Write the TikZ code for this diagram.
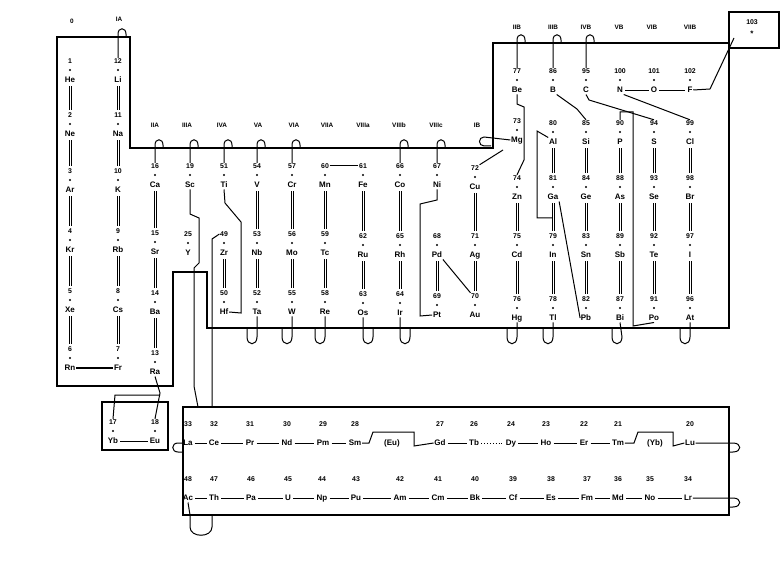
\documentclass[tikz,border=0pt]{standalone}
\usepackage{fontspec}
\setmainfont{Liberation Sans}
\begin{document}
\begin{tikzpicture}[x=1pt,y=-1pt,
  sym/.style={font=\fontsize{8}{9}\selectfont\bfseries, inner sep=0.6pt, text height=5.8pt, text depth=1.6pt},
  num/.style={font=\fontsize{6.9}{8}\selectfont\bfseries, inner sep=0.5pt, text height=5pt, text depth=0pt},
  hdr/.style={font=\fontsize{6.4}{7}\selectfont\bfseries, inner sep=0.5pt},
  frame/.style={line width=1.6pt, line join=miter},
  conn/.style={line width=1pt},
  barl/.style={line width=0.75pt},
  sep/.style={line width=0.9pt, shorten <=1.5pt, shorten >=1.5pt}]
\useasboundingbox (0,0) rectangle (782,561);
\fill[white] (0,0) rectangle (782,561);

% ---------- elements with spiral numbers ----------
\foreach \x/\yy/\n/\s in {
  70/80/1/He, 70/134/2/Ne, 70/190/3/Ar, 70/250/4/Kr, 70/310/5/Xe, 70/368/6/Rn,
  118/80/12/Li, 118/134/11/Na, 118/190/10/K, 118/250/9/Rb, 118/310/8/Cs, 118/368/7/Fr,
  155/185/16/Ca, 155/252/15/Sr, 155/312/14/Ba, 155/372/13/Ra,
  113/441/17/Yb, 155/441/18/Eu,
  190/185/19/Sc, 188/253/25/Y,
  224/185/51/Ti, 224/253/49/Zr, 224/312/50/Hf,
  257/185/54/V, 257/253/53/Nb, 257/312/52/Ta,
  292/185/57/Cr, 292/253/56/Mo, 292/312/55/W,
  325/185/60/Mn, 325/253/59/Tc, 325/312/58/Re,
  363/185/61/Fe, 363/255/62/Ru, 363/313/63/Os,
  400/185/66/Co, 400/255/65/Rh, 400/313/64/Ir,
  437/185/67/Ni, 437/255/68/Pd, 437/315/69/Pt,
  475/187/72/Cu, 475/255/71/Ag, 475/315/70/Au,
  517/90/77/Be, 517/140/73/Mg, 517/197/74/Zn, 517/255/75/Cd, 517/318/76/Hg,
  553/90/86/B, 553/142/80/Al, 553/197/81/Ga, 553/255/79/In, 553/318/78/Tl,
  586/90/95/C, 586/142/85/Si, 586/197/84/Ge, 586/255/83/Sn, 586/318/82/Pb,
  620/90/100/N, 620/142/90/P, 620/197/88/As, 620/255/89/Sb, 620/318/87/Bi,
  654/90/101/O, 654/142/94/S, 654/197/93/Se, 654/255/92/Te, 654/318/91/Po,
  690/90/102/F, 690/142/99/Cl, 690/197/98/Br, 690/255/97/I, 690/318/96/At}
{
  \node[sym] (\s) at (\x,\yy) {\s};
  \node[num] (n\s) at (\x,\yy-19) {\n};
  \fill (\x,\yy-10) circle[radius=1.1];
}

% ---------- double bars inside columns ----------
\foreach \a/\b in {He/Ne,Ne/Ar,Ar/Kr,Kr/Xe,Xe/Rn, Li/Na,Na/K,K/Rb,Rb/Cs,Cs/Fr,
  Ca/Sr,Sr/Ba,Ba/Ra, Zr/Hf, V/Nb,Nb/Ta, Cr/Mo,Mo/W, Mn/Tc,Tc/Re,
  Fe/Ru,Ru/Os, Co/Rh,Rh/Ir, Pd/Pt, Cu/Ag,Ag/Au,
  Zn/Cd,Cd/Hg, Al/Ga,Ga/In,In/Tl, Si/Ge,Ge/Sn,Sn/Pb, P/As,As/Sb,Sb/Bi,
  S/Se,Se/Te,Te/Po, Cl/Br,Br/I,I/At}
{
  \draw[barl] ([xshift=-1pt,yshift=-2pt]\a.south) -- ([xshift=-1pt,yshift=2pt]\a.south |- n\b.north);
  \draw[barl] ([xshift=1pt,yshift=-2pt]\a.south) -- ([xshift=1pt,yshift=2pt]\a.south |- n\b.north);
}

% ---------- main spiral frame ----------
\draw[frame] (57,37) -- (130,37) -- (130,148) -- (493,148) -- (493,43) -- (729,43)
  -- (729,328) -- (207,328) -- (207,272) -- (173,272) -- (173,386) -- (57,386) -- cycle;

% top bridges (column line arches over the frame)
\foreach \x/\yl/\s in {118/37/Li, 155/148/Ca, 190/148/Sc, 224/148/Ti, 257/148/V,
  292/148/Cr, 400/148/Co, 437/148/Ni, 517/43/Be, 553/43/B, 586/43/C}
  \draw[conn] (n\s.north) -- (\x,\yl-3) .. controls (\x,\yl-10) and (\x+8,\yl-10) .. (\x+8,\yl-3) -- (\x+8,\yl);

% bottom loops (column line dips under the frame)
\foreach \x/\xx/\s in {257/247/Ta, 292/282/W, 325/315/Re, 363/373/Os, 400/410/Ir,
  517/507/Hg, 553/543/Tl, 622/612/Bi, 690/680/At}
  \draw[conn] (\s.south) -- (\x,337) .. controls (\x,346) and (\xx,346) .. (\xx,337) -- (\xx,328);

% ---------- group headers ----------
\node[hdr] (g0) at (72,21) {0};
\node[hdr] (g1) at (119,19) {IA};
\foreach \x/\t in {155/IIA, 187/IIIA, 222/IVA, 258/VA, 294/VIA, 327/VIIA,
  363/VIIIa, 399/VIIIb, 436/VIIIc, 477/IB}
  \node[hdr] at (\x,125) {\t};
\foreach \x/\t in {517/IIB, 553/IIIB, 586/IVB, 619/VB, 652/VIB, 690/VIIB}
  \node[hdr] at (\x,27) {\t};

% ---------- left part connectors ----------
\draw[conn] (Rn.east) -- (Fr.west);
\draw[frame] (102,402) rectangle (168,450);
\draw[sep] (Yb) -- (Eu);
\draw[conn] (Ra.south) -- (160,393) -- (nEu.north);
\draw[conn] (nYb.north) -- (115,395) -- (160,395);

% ---------- middle block connectors ----------
\draw[conn] (Sc.south) -- (190,214) -- (199,218) -- (199,263) -- (194,268) -- (194,386) -- (198,407);
\draw[conn] (212,407) -- (212,239) -- (nZr.west);
\draw[conn] (Ti.south) -- (225,203) -- (241,222) -- (241,313) -- (Hf.east);
\draw[conn] (nMn.east) -- (nFe.west);
\draw[conn] (Ni.south) -- (437,200) -- (420,204) -- (420,316) -- (Pt.west);
\draw[conn] (Pd.south east) -- (nAu.north west);
\draw[conn] (nCu.north east) -- (503,150);
\draw[conn] (Mg.west) -- (484,137) .. controls (478,137) and (478,146) .. (484,146) -- (491,146);

% ---------- right block connectors ----------
\draw[conn] (Be.south) -- (517,104) -- (524,107) -- (524,160) -- (nZn.north);
\draw[conn] (B.south east) -- (577,109) -- (nSi.north);
\draw[conn] (C.south) -- (589,100) -- (nS.north);
\draw[conn] (N.south east) -- (nCl.north);
\draw[sep] (N) -- (O);
\draw[sep] (O) -- (F);
\draw[conn] (Al.north west) -- (537,131) -- (537,218) -- (552,218);
\draw[conn] (Ga.south east) -- (Pb.west);
\draw[conn] (nP.north) -- (620,112) -- (633,112) -- (633,326) -- (Po.south);

% box 103
\draw[frame] (729,12) rectangle (779,48);
\node[num] (n103) at (752,22) {103};
\node[sym] (star) at (752,34) {*};
\draw[conn] (F.east) -- (710,89) -- (734,38);

% ---------- lanthanide / actinide box ----------
\draw[frame] (183,407) rectangle (729,515);
\foreach \x/\n/\s in {188/33/La, 214/32/Ce, 250/31/Pr, 287/30/Nd, 323/29/Pm, 355/28/Sm,
  440/27/Gd, 474/26/Tb, 511/24/Dy, 546/23/Ho, 584/22/Er, 618/21/Tm, 690/20/Lu}
{ \node[sym] (\s) at (\x,443) {\s}; \node[num] at (\x,424) {\n}; }
\node[sym] (EuL) at (392,443) {(Eu)};
\node[sym] (YbL) at (655,443) {(Yb)};
\foreach \x/\n/\s in {188/48/Ac, 214/47/Th, 251/46/Pa, 288/45/U, 322/44/Np, 356/43/Pu,
  400/42/Am, 438/41/Cm, 475/40/Bk, 513/39/Cf, 551/38/Es, 587/37/Fm, 618/36/Md,
  650/35/No, 688/34/Lr}
{ \node[sym] (\s) at (\x,498) {\s}; \node[num] at (\x,479) {\n}; }

\foreach \a/\b in {La/Ce,Ce/Pr,Pr/Nd,Nd/Pm,Pm/Sm,Gd/Tb,Dy/Ho,Ho/Er,Er/Tm,
  Ac/Th,Th/Pa,Pa/U,U/Np,Np/Pu,Pu/Am,Am/Cm,Cm/Bk,Bk/Cf,Cf/Es,Es/Fm,Fm/Md,Md/No,No/Lr}
  \draw[sep] (\a) -- (\b);
\draw[sep, dotted, line width=1pt] (Tb) -- (Dy);
\draw[conn] (Sm.east) -- (369,443) -- (373,432) -- (414,432) -- (414,446) -- (Gd.west);
\draw[conn] (Tm.east) -- (634,443) -- (638,432) -- (673,432) -- (673,446) -- (Lu.west);
\draw[conn] (Lu.east) -- (733,443) .. controls (742,443) and (742,452) .. (733,452) -- (729,452);
\draw[conn] (Lr.east) -- (733,498) .. controls (742,498) and (742,507) .. (733,507) -- (729,507);
\draw[conn] (La.west) -- (178,443) .. controls (171,443) and (171,452) .. (178,452) -- (183,452);
\draw[conn] (Ac.south) -- (190,515) -- (190,527) .. controls (190,538) and (212,538) .. (212,527) -- (212,515);
\end{tikzpicture}
\end{document}
